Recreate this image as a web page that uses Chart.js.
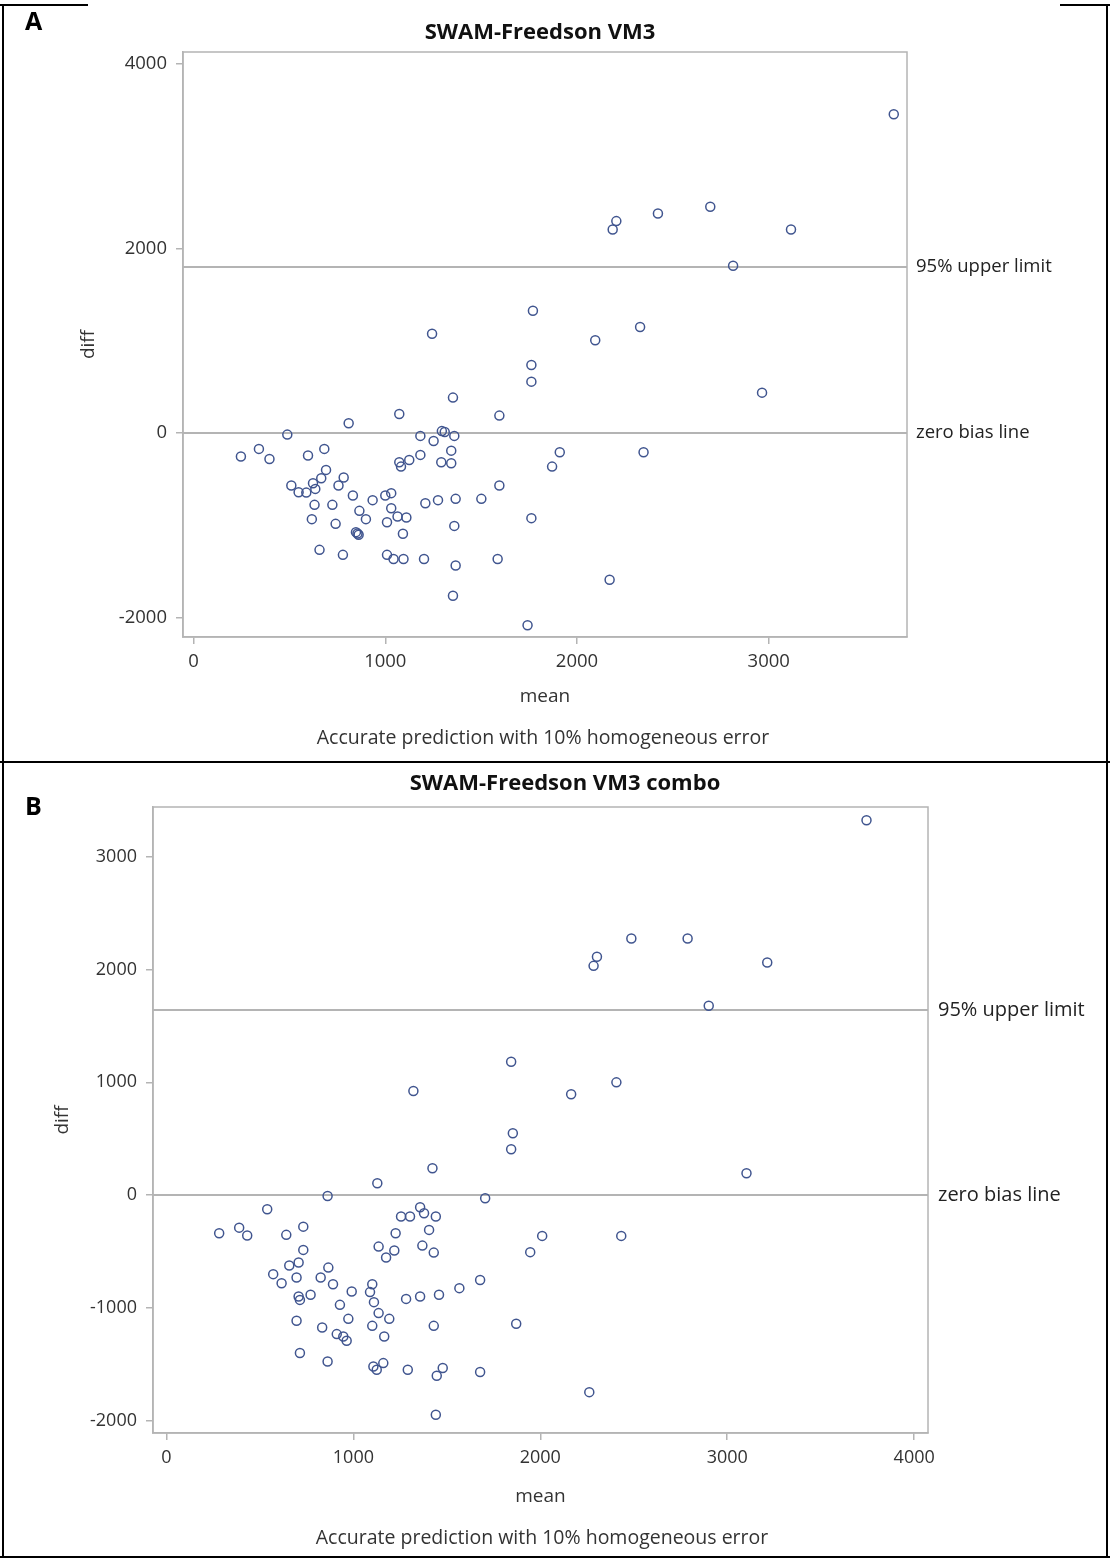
<!DOCTYPE html>
<html><head><meta charset="utf-8">
<script src="https://cdn.jsdelivr.net/npm/chart.js@4.4.1/dist/chart.umd.min.js"></script>
<style>
html,body{margin:0;padding:0;background:#fff;}
#page{position:relative;width:1110px;height:1559px;overflow:hidden;background:#fff;font-family:'Open Sans',sans-serif;}
canvas{position:absolute;left:0;}
.t{position:absolute;white-space:nowrap;text-align:center;color:#222;}
.title{font-weight:bold;font-size:22px;line-height:26px;color:#111;}
.foot{font-size:19.5px;line-height:22px;color:#333;}
.letter{position:absolute;font-weight:bold;font-size:25px;line-height:28px;color:#000;font-family:'Open Sans',sans-serif;}
.ln{position:absolute;background:#000;}
</style></head><body>
<div id="page">
  <canvas id="cA" width="1110" height="762" style="top:0px"></canvas>
  <canvas id="cB" width="1110" height="797" style="top:762px"></canvas>

  <div class="letter" style="left:25px;top:6px">A</div>
  <div class="letter" style="left:25px;top:791px">B</div>

  <div class="t title" style="left:290px;width:500px;top:17px">SWAM-Freedson VM3</div>
  <div class="t title" style="left:315px;width:500px;top:768px">SWAM-Freedson VM3 combo</div>

  <div class="t foot" style="left:243px;width:600px;top:726px">Accurate prediction with 10% homogeneous error</div>
  <div class="t foot" style="left:242px;width:600px;top:1526px">Accurate prediction with 10% homogeneous error</div>

  <div class="ln" style="left:0;top:4px;width:88px;height:2px"></div>
  <div class="ln" style="left:1060px;top:4px;width:50px;height:2px"></div>
  <div class="ln" style="left:0;top:761px;width:1110px;height:2px"></div>
  <div class="ln" style="left:0;top:1556px;width:1110px;height:2px"></div>
  <div class="ln" style="left:2px;top:4px;width:2px;height:1554px"></div>
  <div class="ln" style="left:1106px;top:4px;width:2px;height:1554px"></div>
</div>
<script>
// ---------- Panel A data ----------
const meanA = [3652,2205,2186,2422,2695,3116,2814,1770,1244,2095,2329,1762,1762,2965,1910,1870,2347,1762,2170,1742,
  1353,1073,1595,809,489,1183,1295,1310,1252,1360,1344,1292,1344,1183,1125,1073,1082,
  247,341,396,597,682,691,666,783,756,623,635,588,548,510,631,724,617,741,831,934,865,899,
  1000,1031,1031,1064,1110,1009,1092,847,861,855,1209,1275,1367,1501,1595,1360,
  657,779,1009,1043,1095,1202,1367,1586,1353];
const diffA = [3456,2297,2207,2380,2452,2207,1813,1325,1075,1005,1148,737,556,437,-209,-365,-209,-924,-1593,-2085,
  383,206,188,105,-18,-32,20,10,-87,-32,-192,-317,-328,-238,-293,-317,-365,
  -256,-173,-282,-245,-173,-401,-491,-484,-571,-545,-607,-647,-643,-571,-780,-780,-935,-986,-679,-729,-845,-935,
  -679,-653,-816,-907,-917,-968,-1094,-1076,-1105,-1090,-762,-729,-715,-715,-571,-1008,
  -1268,-1322,-1322,-1368,-1368,-1368,-1438,-1368,-1766];
const xTicksA = [0,1000,2000,3000];
const yTicksA = [-2000,0,2000,4000];
const refValuesA = [1800,0];

// ---------- Panel B data ----------
const meanB = [3745,2303,2285,2487,2788,3214,2901,1844,2165,2407,1853,1844,3103,1705,2010,2433,2262,1321,1423,1128,862,
  539,282,389,432,641,732,732,707,657,696,571,616,707,714,771,866,825,891,991,928,973,696,833,911,946,964,714,862,
  1101,1089,1110,1135,1192,1101,1165,1226,1135,1219,1175,1255,1303,1357,1378,1441,1405,1369,1430,
  1282,1357,1458,1567,1678,1430,1107,1125,1160,1291,1478,1446,1678,1441,1871,1946];
const diffB = [3321,2112,2032,2274,2274,2062,1678,1182,894,1000,549,407,195,-27,-360,-360,-1744,923,239,106,-6,
  -124,-336,-287,-357,-351,-278,-484,-596,-623,-729,-699,-779,-897,-927,-882,-641,-729,-788,-853,-971,-1095,-1112,-1172,-1230,-1251,-1289,-1398,-1473,
  -788,-858,-947,-1044,-1095,-1157,-1251,-336,-455,-490,-552,-189,-189,-106,-159,-189,-307,-446,-508,
  -918,-897,-882,-823,-750,-1157,-1517,-1546,-1487,-1546,-1531,-1599,-1566,-1944,-1139,-504];
const xTicksB = [0,1000,2000,3000,4000];
const yTicksB = [-2000,-1000,0,1000,2000,3000];
const refValuesB = [1640,0];

const refLabels = ['95% upper limit','zero bias line'];

const FONT = "'Open Sans', sans-serif";
const GRAY = '#b4b4b4';

const refPlugin = {
  id: 'refs',
  beforeDatasetsDraw(chart, args, opts) {
    const {ctx, chartArea: a} = chart;
    const y = chart.scales.y;
    ctx.save();
    ctx.strokeStyle = GRAY; ctx.lineWidth = 2;
    opts.values.forEach(v => {
      const py = Math.round(y.getPixelForValue(v));
      ctx.beginPath(); ctx.moveTo(a.left, py); ctx.lineTo(a.right, py); ctx.stroke();
    });
    ctx.restore();
  },
  afterDraw(chart, args, opts) {
    const {ctx, chartArea: a} = chart;
    const y = chart.scales.y;
    ctx.save();
    ctx.strokeStyle = GRAY; ctx.lineWidth = 1.5;
    ctx.strokeRect(a.left, a.top, a.right - a.left, a.bottom - a.top);
    ctx.fillStyle = '#222';
    ctx.font = opts.fontSize + 'px ' + FONT;
    ctx.textBaseline = 'middle'; ctx.textAlign = 'left';
    opts.values.forEach((v, i) => {
      ctx.fillText(opts.labels[i], a.right + opts.gap, y.getPixelForValue(v));
    });
    ctx.restore();
  }
};

function makeChart(id, mean, diff, xT, yT, refs, g) {
  const pts = mean.map((m, i) => ({x: m, y: diff[i]}));
  return new Chart(document.getElementById(id), {
    type: 'scatter',
    data: {datasets: [{data: pts, pointStyle: 'circle', pointRadius: 4.5, pointHoverRadius: 4.5,
      borderWidth: 1.5, borderColor: '#40558f', backgroundColor: 'rgba(0,0,0,0)'}]},
    options: {
      responsive: false, animation: false, devicePixelRatio: 1,
      layout: {padding: {left: g.padL, right: g.padR, top: g.padT, bottom: g.padB}},
      plugins: {legend: {display: false}, tooltip: {enabled: false},
        refs: {values: refs, labels: refLabels, gap: g.labGap, fontSize: g.labFont}},
      scales: {
        x: {type: 'linear', min: g.xmin, max: g.xmax,
          afterBuildTicks: s => { s.ticks = xT.map(v => ({value: v})); },
          afterFit: s => { s.height = g.xH; },
          grid: {drawOnChartArea: false, drawTicks: true, tickLength: 7, color: GRAY, lineWidth: 1.5},
          border: {display: true, color: GRAY, width: 1.5},
          ticks: {padding: 7, maxRotation: 0, autoSkip: false, color: '#333', font: {family: FONT, size: g.tickFont},
            callback: v => String(v)},
          title: {display: true, text: 'mean', color: '#333', font: {family: FONT, size: g.axFont}, padding: {top: 0, bottom: 6}}},
        y: {type: 'linear', min: g.ymin, max: g.ymax,
          afterBuildTicks: s => { s.ticks = yT.map(v => ({value: v})); },
          afterFit: s => { s.width = g.yW; },
          grid: {drawOnChartArea: false, drawTicks: true, tickLength: 7, color: GRAY, lineWidth: 1.5},
          border: {display: true, color: GRAY, width: 1.5},
          ticks: {padding: 9, color: '#333', font: {family: FONT, size: g.tickFont},
            callback: v => String(v)},
          title: {display: true, text: 'diff', color: '#333', font: {family: FONT, size: g.axFont}, padding: {top: 4, bottom: 0}}}
      }
    },
    plugins: [refPlugin]
  });
}

makeChart('cA', meanA, diffA, xTicksA, yTicksA, refValuesA, {
  padL: 73, padR: 203, padT: 52, padB: 48, yW: 110, xH: 77,
  xmin: -55, xmax: 3721, ymin: -2213, ymax: 4131,
  tickFont: 18.5, axFont: 19, labFont: 18.5, labGap: 9});

makeChart('cB', meanB, diffB, xTicksB, yTicksB, refValuesB, {
  padL: 47, padR: 182, padT: 45, padB: 45, yW: 106, xH: 81,
  xmin: -72, xmax: 4074, ymin: -2106, ymax: 3439,
  tickFont: 18, axFont: 19, labFont: 20, labGap: 10});
</script>
</body></html>
